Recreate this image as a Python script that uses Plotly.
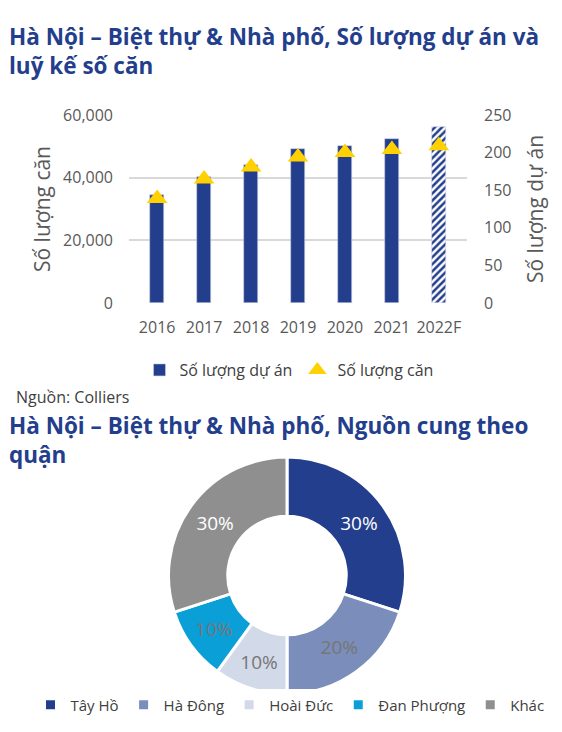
import plotly.graph_objects as go

# dữ liệu biểu đồ cột
years = ["2016", "2017", "2018", "2019", "2020", "2021", "2022F"]
so_du_an = [34500, 40200, 44100, 49000, 50100, 52350, 56250]
so_can = [139, 165, 181, 194, 200, 204, 209]

# dữ liệu biểu đồ tròn
quan = ["Tây Hồ", "Hà Đông", "Hoài Đức", "Đan Phượng", "Khác"]
ty_le = [30, 20, 10, 10, 30]

BLUE = "#233E8C"
GRAY_TXT = "#595959"
FONT = "Open Sans"

# trang html có lề 8px, nên figure nhỏ hơn cửa sổ một chút
W, H = 554, 716


def px_x(x):
    return (x - 8) / W


def px_y(y):
    return 1 - (y - 8) / H


fig = go.Figure()

fig.add_trace(go.Bar(
    x=years, y=so_du_an, name="Số lượng dự án",
    width=0.31,
    marker=dict(
        color=BLUE,
        line=dict(color="#C9D0E3", width=0.6),
        pattern=dict(shape=[""] * 6 + ["/"], fillmode="replace",
                     fgcolor=BLUE, bgcolor="white", size=5, solidity=0.5),
    ),
    xaxis="x", yaxis="y", legend="legend",
))

fig.add_trace(go.Scatter(
    x=years, y=so_can, name="Số lượng căn", mode="markers",
    marker=dict(symbol="triangle-up", size=18, color="#FFD100"),
    xaxis="x", yaxis="y2", legend="legend",
))

fig.add_trace(go.Pie(
    labels=quan, values=ty_le, hole=0.5, sort=False, direction="clockwise",
    rotation=0,
    marker=dict(colors=["#233E8C", "#7A8DBB", "#D2D9E9", "#0B9FD8", "#8F8F8F"],
                line=dict(color="white", width=3)),
    texttemplate="%{value}%", textposition="inside",
    insidetextorientation="horizontal",
    textfont=dict(family=FONT, size=19,
                  color=["white", "#767676", "#767676", "#767676", "white"]),
    domain=dict(x=[px_x(168), px_x(406)], y=[px_y(694), px_y(457)]),
    legend="legend2", hoverinfo="label+percent",
))

fig.update_layout(
    width=W, height=H,
    margin=dict(l=0, r=0, t=0, b=0, autoexpand=False),
    paper_bgcolor="white", plot_bgcolor="white",
    font=dict(family=FONT, color=GRAY_TXT),
    showlegend=True,
    bargap=0,
    xaxis=dict(domain=[px_x(129), px_x(467)], anchor="y", showgrid=False,
               tickfont=dict(size=16, color=GRAY_TXT), ticks="", showline=False,
               ticklabelstandoff=13),
    yaxis=dict(domain=[px_y(303), px_y(115)], range=[0, 60000], dtick=20000,
               tickformat=",", gridcolor="#D9D9D9", gridwidth=1.5, zeroline=False,
               tickfont=dict(size=16, color=GRAY_TXT), ticklabelstandoff=15,
               title=dict(text="Số lượng căn", font=dict(size=21, color=GRAY_TXT),
                          standoff=6)),
    yaxis2=dict(overlaying="y", side="right", anchor="x", range=[0, 250], dtick=50,
                showgrid=False, zeroline=False,
                tickfont=dict(size=16, color=GRAY_TXT), ticklabelstandoff=16,
                title=dict(text="Số lượng dự án", font=dict(size=21, color=GRAY_TXT),
                           standoff=17)),
    legend=dict(orientation="h", x=px_x(289), xanchor="center", y=px_y(370),
                yanchor="middle", font=dict(size=16, color="#404040"), itemwidth=30,
                traceorder="normal"),
    legend2=dict(orientation="h", x=px_x(290), xanchor="center", y=px_y(705),
                 yanchor="middle", font=dict(size=15, color="#404040"), itemwidth=30),
)

title_font = dict(family=FONT, size=22.5, color=BLUE)
fig.add_annotation(text="<b>Hà Nội – Biệt thự & Nhà phố, Số lượng dự án và<br>luỹ kế số căn</b>",
                   xref="paper", yref="paper", x=px_x(7), y=px_y(19),
                   xanchor="left", yanchor="top", align="left", showarrow=False,
                   font=title_font)
fig.add_annotation(text="<b>Hà Nội – Biệt thự & Nhà phố, Nguồn cung theo<br>quận</b>",
                   xref="paper", yref="paper", x=px_x(7), y=px_y(408),
                   xanchor="left", yanchor="top", align="left", showarrow=False,
                   font=title_font)

fig.add_annotation(text="Nguồn: Colliers", xref="paper", yref="paper",
                   x=px_x(14), y=px_y(397), xanchor="left", yanchor="middle",
                   showarrow=False, font=dict(family=FONT, size=16, color="#404040"))

fig.write_html("out.html")
